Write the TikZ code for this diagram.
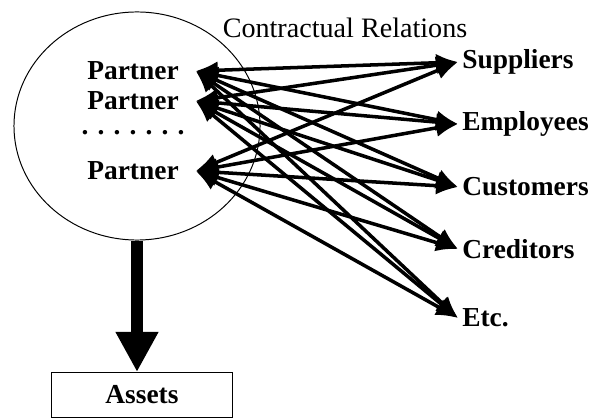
\documentclass[tikz,border=0pt]{standalone}
\usepackage{fontspec}
\setmainfont{Liberation Serif}
\usetikzlibrary{arrows.meta,shapes.geometric}
\begin{document}
\begin{tikzpicture}[x=0.025cm,y=-0.025cm]
            \tikzset{
	party/.style={font=\fontsize{19.5}{22}\selectfont\bfseries, inner xsep=0.42cm, inner ysep=0pt},
	stake/.style={font=\fontsize{19.5}{22}\selectfont\bfseries, anchor=west, inner xsep=0.1cm},
	relation/.style={draw, {Latex[length=0.55cm,width=0.45cm]}-{Latex[length=0.55cm,width=0.45cm]}, line width=2.5pt}
}
\useasboundingbox (0,0) rectangle (604,419);

\node[draw, ellipse, minimum width=6.15cm, minimum height=5.7cm, line width=.7pt] (firm) at (137,126) {};
\node[font=\fontsize{20}{22}\selectfont] (title) at (345,28) {Contractual Relations};

\node[party] (p1) at (133,71) {Partner};
\node[party] (p2) at (133,101) {Partner};
\node[party] (dots) at (133,133) {. . . . . . .};
\node[party] (p3) at (133,171) {Partner};

\node[stake] (s1) at (458,62) {Suppliers};
\node[stake] (s2) at (458,124) {Employees};
\node[stake] (s3) at (458,187) {Customers};
\node[stake] (s4) at (458,249) {Creditors};
\node[stake] (s5) at (458,318) {Etc.};

\foreach \p in {p1,p2,p3}
	\foreach \s in {s1,s2,s3,s4,s5}
		\draw[relation] (\p.east) -- (\s.west);

\node[draw, minimum width=4.5cm, minimum height=1.125cm, line width=.7pt,
	font=\fontsize{19.5}{22}\selectfont\bfseries] (assets) at (142,395) {Assets};
\draw[line width=8.5pt, -{Triangle[length=1cm,width=1cm]}] (firm.south) -- (firm.south |- assets.north);
        \end{tikzpicture}
\end{document}
